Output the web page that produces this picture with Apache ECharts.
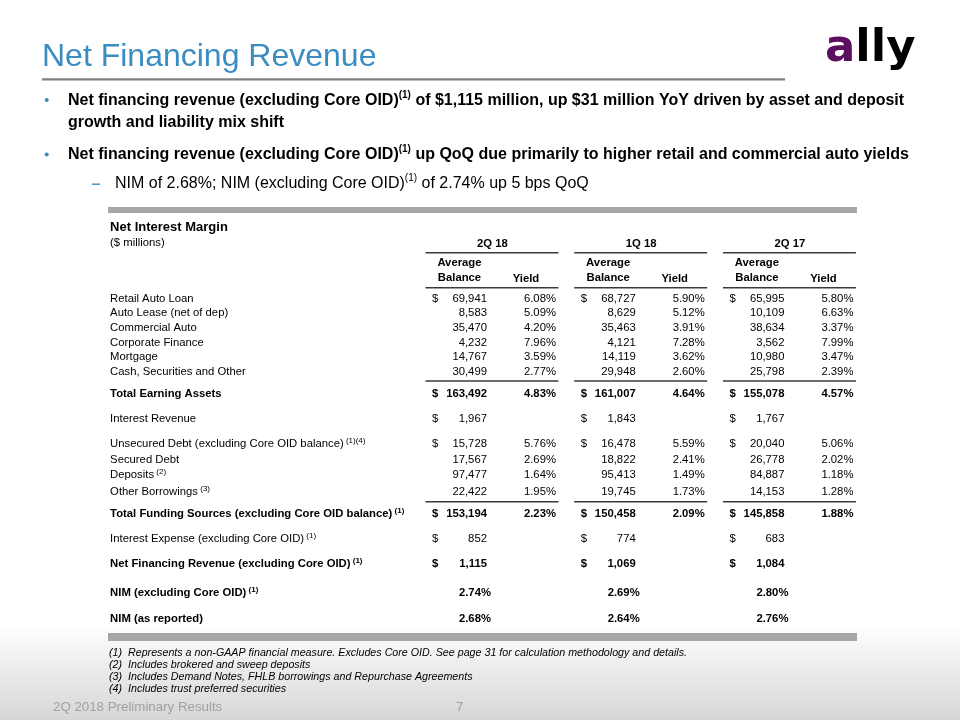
<!DOCTYPE html>
<html><head><meta charset="utf-8">
<script src="https://cdn.jsdelivr.net/npm/echarts@6/dist/echarts.min.js"></script>
<style>html,body{margin:0;padding:0;background:#fff}#c{width:960px;height:720px}</style>
</head><body><div id="c"></div>
<script>
// ---------------- DATA ----------------
const periods = ['2Q 18', '1Q 18', '2Q 17'];
const rowLabels = [
  'Retail Auto Loan', 'Auto Lease (net of dep)', 'Commercial Auto', 'Corporate Finance', 'Mortgage',
  'Cash, Securities and Other', 'Total Earning Assets', 'Interest Revenue',
  'Unsecured Debt (excluding Core OID balance)', 'Secured Debt', 'Deposits', 'Other Borrowings',
  'Total Funding Sources (excluding Core OID balance)', 'Interest Expense (excluding Core OID)',
  'Net Financing Revenue (excluding Core OID)', 'NIM (excluding Core OID)', 'NIM (as reported)'
];
const rowNotes = ['', '', '', '', '', '', '', '', '(1)(4)', '', '(2)', '(3)', '(1)', '(1)', '(1)', '(1)', ''];
const balance2Q18 = [69941, 8583, 35470, 4232, 14767, 30499, 163492, 1967, 15728, 17567, 97477, 22422, 153194, 852, 1115, null, null];
const balance1Q18 = [68727, 8629, 35463, 4121, 14119, 29948, 161007, 1843, 16478, 18822, 95413, 19745, 150458, 774, 1069, null, null];
const balance2Q17 = [65995, 10109, 38634, 3562, 10980, 25798, 155078, 1767, 20040, 26778, 84887, 14153, 145858, 683, 1084, null, null];
const yield2Q18 = [6.08, 5.09, 4.20, 7.96, 3.59, 2.77, 4.83, null, 5.76, 2.69, 1.64, 1.95, 2.23, null, null, null, null];
const yield1Q18 = [5.90, 5.12, 3.91, 7.28, 3.62, 2.60, 4.64, null, 5.59, 2.41, 1.49, 1.73, 2.09, null, null, null, null];
const yield2Q17 = [5.80, 6.63, 3.37, 7.99, 3.47, 2.39, 4.57, null, 5.06, 2.02, 1.18, 1.28, 1.88, null, null, null, null];
const nimExCoreOID = [2.74, 2.69, 2.80];
const nimReported = [2.68, 2.64, 2.76];
const boldRows = [6, 12, 14, 15, 16];
const dollarRows = [0, 6, 7, 8, 12, 13, 14];

// ---------------- LAYOUT ----------------
const FONT = '"Liberation Sans", Arial, Helvetica, sans-serif';
const BLUE = '#3b8cc1';
const TABLE_FS = 11.3;
const ROW_TOP = 302.3, LINE = 14.7;
const rowGaps = [0, 1, 1, 1, 1, 1, 1.46, 1.7, 1.7, 1.09, 1.05, 1.13, 1.5, 1.72, 1.7, 1.98, 1.74];
const rowBaseline = [];
rowGaps.reduce((acc, g, i) => { const v = acc + g; rowBaseline[i] = ROW_TOP + v * LINE; return v; }, 0);
const mid = (b, fs) => b - 0.34 * fs;

const balances = [balance2Q18, balance1Q18, balance2Q17];
const yields = [yield2Q18, yield1Q18, yield2Q17];
const fmtBal = v => v == null ? '' : v.toLocaleString('en-US');
const fmtPct = v => v == null ? '' : v.toFixed(2) + '%';

// custom series data
const cellData = [];
periods.forEach((p, pi) => rowLabels.forEach((r, ri) => cellData.push([pi, rowBaseline[ri], ri])));
const labelData = rowLabels.map((r, ri) => [0, rowBaseline[ri], ri]);
const headerData = periods.map((p, pi) => [pi, 0]);

function tText(x, y, text, opts) {
  return {
    type: 'text', x: x, y: y,
    style: Object.assign({
      text: text, fill: '#000', fontFamily: FONT, fontSize: TABLE_FS,
      fontWeight: 'normal', align: 'left', verticalAlign: 'middle'
    }, opts || {})
  };
}

function renderCell(params, api) {
  const pi = api.value(0), ri = api.value(2);
  const pt = api.coord([pi, api.value(1)]);
  const cx = pt[0], y = mid(pt[1], TABLE_FS);
  const bold = boldRows.indexOf(ri) >= 0 ? 'bold' : 'normal';
  const kids = [];
  if (ri === 15 || ri === 16) {
    const v = ri === 15 ? nimExCoreOID[pi] : nimReported[pi];
    kids.push(tText(cx - 1.5, y, fmtPct(v), { align: 'right', fontWeight: 'bold' }));
  } else {
    if (dollarRows.indexOf(ri) >= 0) kids.push(tText(cx - 60.5, y, '$', { fontWeight: bold }));
    kids.push(tText(cx - 5.5, y, fmtBal(balances[pi][ri]), { align: 'right', fontWeight: bold }));
    const yv = yields[pi][ri];
    if (yv != null) kids.push(tText(cx + 63.5, y, fmtPct(yv), { align: 'right', fontWeight: bold }));
  }
  return { type: 'group', children: kids };
}

function renderLabel(params, api) {
  const ri = api.value(2);
  const pt = api.coord([0, api.value(1)]);
  const x = params.coordSys.x - 308;
  const bold = boldRows.indexOf(ri) >= 0;
  const note = rowNotes[ri];
  const txt = '{m|' + rowLabels[ri] + '}' + (note ? '{s| ' + note + '}' : '');
  return tText(x, mid(pt[1], TABLE_FS), txt, {
    lineHeight: 14,
    rich: {
      m: { fontFamily: FONT, fontSize: TABLE_FS, fontWeight: bold ? 'bold' : 'normal', fill: '#000', lineHeight: 14 },
      s: { fontFamily: FONT, fontSize: 8, fontWeight: bold ? 'bold' : 'normal', fill: '#000', verticalAlign: 'top', lineHeight: 9 }
    }
  });
}

const LINE_COLOR = '#3a3a3a';
function hLine(x1, x2, y) {
  return { type: 'line', shape: { x1: x1, y1: y, x2: x2, y2: y }, style: { stroke: LINE_COLOR, lineWidth: 1.5 } };
}
function renderHeader(params, api) {
  const pi = api.value(0);
  const cx = api.coord([pi, 0])[0];
  const Y = v => api.coord([pi, v])[1];
  const kids = [
    tText(cx, mid(Y(247.7), TABLE_FS), periods[pi], { align: 'center', fontWeight: 'bold' }),
    hLine(cx - 67, cx + 66, Y(252.7)),
    tText(cx - 33, mid(Y(266.7), TABLE_FS), 'Average', { align: 'center', fontWeight: 'bold' }),
    tText(cx - 33, mid(Y(281.7), TABLE_FS), 'Balance', { align: 'center', fontWeight: 'bold' }),
    tText(cx + 33.5, mid(Y(282.7), TABLE_FS), 'Yield', { align: 'center', fontWeight: 'bold' }),
    hLine(cx - 67, cx + 66, Y(287.7)),
    hLine(cx - 67, cx + 66, Y((rowBaseline[5] + rowBaseline[6]) / 2 - 5.5)),
    hLine(cx - 67, cx + 66, Y((rowBaseline[11] + rowBaseline[12]) / 2 - 4.5))
  ];
  if (pi === 0) {
    const lx = params.coordSys.x - 308;
    kids.push(tText(lx, mid(Y(232.3), 13), 'Net Interest Margin', { fontWeight: 'bold', fontSize: 13 }));
    kids.push(tText(lx, mid(Y(246.7), TABLE_FS), '($ millions)'));
  }
  return { type: 'group', children: kids };
}

// ---------------- STATIC SLIDE ELEMENTS ----------------
const BULLET_FS = 16;
const bulletRich = (w) => ({
  m: { fontFamily: FONT, fontSize: BULLET_FS, fontWeight: w, fill: '#000', lineHeight: 20 },
  s: { fontFamily: FONT, fontSize: 10, fontWeight: w, fill: '#000', verticalAlign: 'top', lineHeight: 12 }
});
function richText(x, baseline, str, w) {
  return {
    type: 'text', x: x, y: mid(baseline, BULLET_FS),
    style: { text: str, rich: bulletRich(w), verticalAlign: 'middle', align: 'left', lineHeight: 20, fontSize: BULLET_FS, fontFamily: FONT }
  };
}

const graphics = [
  { type: 'rect', shape: { x: 0, y: 625, width: 960, height: 95 },
    style: { fill: new echarts.graphic.LinearGradient(0, 0, 0, 1, [{ offset: 0, color: '#ffffff' }, { offset: 1, color: '#d6d6d6' }]) }, z: -10 },
  { type: 'text', x: 42, y: mid(67.7, 32), style: { text: 'Net Financing Revenue', fontFamily: FONT, fontSize: 32, fill: BLUE, verticalAlign: 'middle' } },
  { type: 'rect', shape: { x: 42, y: 78.3, width: 743, height: 2.2 }, style: { fill: '#7f7f7f' } },
  { type: 'text', x: 825, y: 49, style: { text: '{a|a}{l|lly}', verticalAlign: 'middle',
      rich: { a: { fontFamily: '"DejaVu Sans"', fontWeight: 'bold', fontSize: 45, fill: '#5c0f5f' },
              l: { fontFamily: '"DejaVu Sans"', fontWeight: 'bold', fontSize: 45, fill: '#000' } } } },
  { type: 'circle', shape: { cx: 46.7, cy: 100, r: 2 }, style: { fill: BLUE } },
  { type: 'circle', shape: { cx: 46.7, cy: 154.5, r: 2 }, style: { fill: BLUE } },
  { type: 'rect', shape: { x: 92, y: 183.5, width: 8, height: 1.4 }, style: { fill: BLUE } },
  richText(68, 105.7, '{m|Net financing revenue (excluding Core OID)}{s|(1)}{m| of $1,115 million, up $31 million YoY driven by asset and deposit}', 'bold'),
  richText(68, 128.3, '{m|growth and liability mix shift}', 'bold'),
  richText(68, 160, '{m|Net financing revenue (excluding Core OID)}{s|(1)}{m| up QoQ due primarily to higher retail and commercial auto yields}', 'bold'),
  richText(115, 189, '{m|NIM of 2.68%; NIM (excluding Core OID)}{s|(1)}{m| of 2.74% up 5 bps QoQ}', 'normal'),
  { type: 'rect', shape: { x: 108, y: 207, width: 749, height: 6 }, style: { fill: '#a6a6a6' } },
  { type: 'rect', shape: { x: 108, y: 633, width: 749, height: 8 }, style: { fill: '#a6a6a6' } }
];
const footnotes = [
  '(1)  Represents a non-GAAP financial measure. Excludes Core OID. See page 31 for calculation methodology and details.',
  '(2)  Includes brokered and sweep deposits',
  '(3)  Includes Demand Notes, FHLB borrowings and Repurchase Agreements',
  '(4)  Includes trust preferred securities'
];
const footY = [652.7, 664.6, 677, 689.3];
footnotes.forEach((t, i) => graphics.push({ type: 'text', x: 109, y: footY[i],
  style: { text: t, fontFamily: FONT, fontSize: 10.7, fontStyle: 'italic', fill: '#000', verticalAlign: 'middle' } }));
graphics.push({ type: 'text', x: 53, y: mid(712.3, 13.3), style: { text: '2Q 2018 Preliminary Results', fontFamily: FONT, fontSize: 13.3, fill: '#a0a0a0', verticalAlign: 'middle' } });
graphics.push({ type: 'text', x: 456, y: mid(712.3, 13.3), style: { text: '7', fontFamily: FONT, fontSize: 13.3, fill: '#a0a0a0', verticalAlign: 'middle' } });

// ---------------- CHART ----------------
const chart = echarts.init(document.getElementById('c'), null, { renderer: 'canvas', width: 960, height: 720 });
chart.setOption({
  animation: false,
  backgroundColor: '#ffffff',
  graphic: graphics,
  grid: { left: 418.1, width: 446.2, top: 0, height: 720, containLabel: false },
  xAxis: { type: 'category', data: periods, boundaryGap: true, show: false },
  yAxis: { type: 'value', min: 0, max: 720, inverse: true, show: false },
  series: [
    { type: 'custom', name: 'headers', data: headerData, renderItem: renderHeader, clip: false, silent: true, encode: { x: 0, y: 1 } },
    { type: 'custom', name: 'labels', data: labelData, renderItem: renderLabel, clip: false, silent: true, encode: { x: 0, y: 1 } },
    { type: 'custom', name: 'cells', data: cellData, renderItem: renderCell, clip: false, silent: true, encode: { x: 0, y: 1 } }
  ]
});
</script>
</body></html>
